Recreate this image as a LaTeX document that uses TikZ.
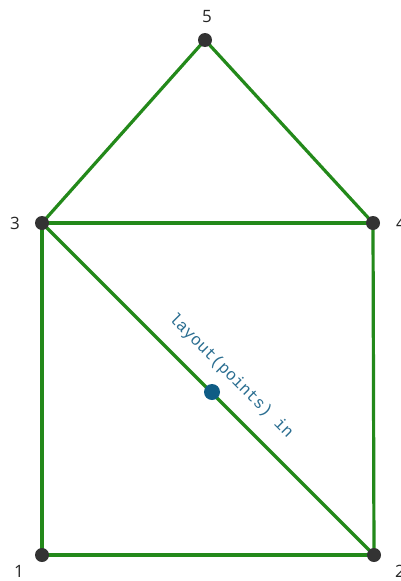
\documentclass[tikz,border=0pt]{standalone}
\usepackage{fontspec}
\setmainfont{Open Sans}
\newfontfamily\monofont{Liberation Mono}
\definecolor{edgegreen}{HTML}{23891A}
\definecolor{dotgrey}{HTML}{333333}
\definecolor{midblue}{HTML}{0F5C85}
\definecolor{txtblue}{HTML}{2B6E91}
\begin{document}
\begin{tikzpicture}[x=1pt,y=-1pt,
  vtx/.style={circle,fill=dotgrey,inner sep=0pt,minimum size=14pt},
  edge/.style={draw=edgegreen,line width=3.2pt},
  vlabel/.style={text=black!85,font=\fontsize{17}{19}\selectfont,inner sep=0pt}]
\useasboundingbox (0,0) rectangle (400,581);
\coordinate (p1) at (42,555);
\coordinate (p2) at (374,555);
\coordinate (p3) at (42,223);
\coordinate (p4) at (373,223);
\coordinate (p5) at (205,40);
\draw[edge] (p1) -- (p2);
\draw[edge] (p1) -- (p3);
\draw[edge] (p2) -- (p4);
\draw[edge] (p3) -- (p4);
\draw[edge] (p3) -- (p5);
\draw[edge] (p4) -- (p5);
\draw[edge] (p3) -- (p2);
\node[vtx] (n1) at (p1) {};
\node[vtx] (n2) at (p2) {};
\node[vtx] (n3) at (p3) {};
\node[vtx] (n4) at (p4) {};
\node[vtx] (n5) at (p5) {};
\node[circle,fill=midblue,inner sep=0pt,minimum size=16pt] (mid) at (212,392) {};
\node[vlabel] (l1) at (19,571) {1};
\node[vlabel] (l2) at (400,571) {2};
\node[vlabel] (l3) at (15,223) {3};
\node[vlabel] (l4) at (401,223) {4};
\node[vlabel] (l5) at (207,17) {5};
\node[rotate=-45,text=txtblue,font=\monofont\fontsize{16.5}{18}\selectfont,inner sep=0pt] (lbl) at (231,376) {layout(points) in};
\end{tikzpicture}
\end{document}
